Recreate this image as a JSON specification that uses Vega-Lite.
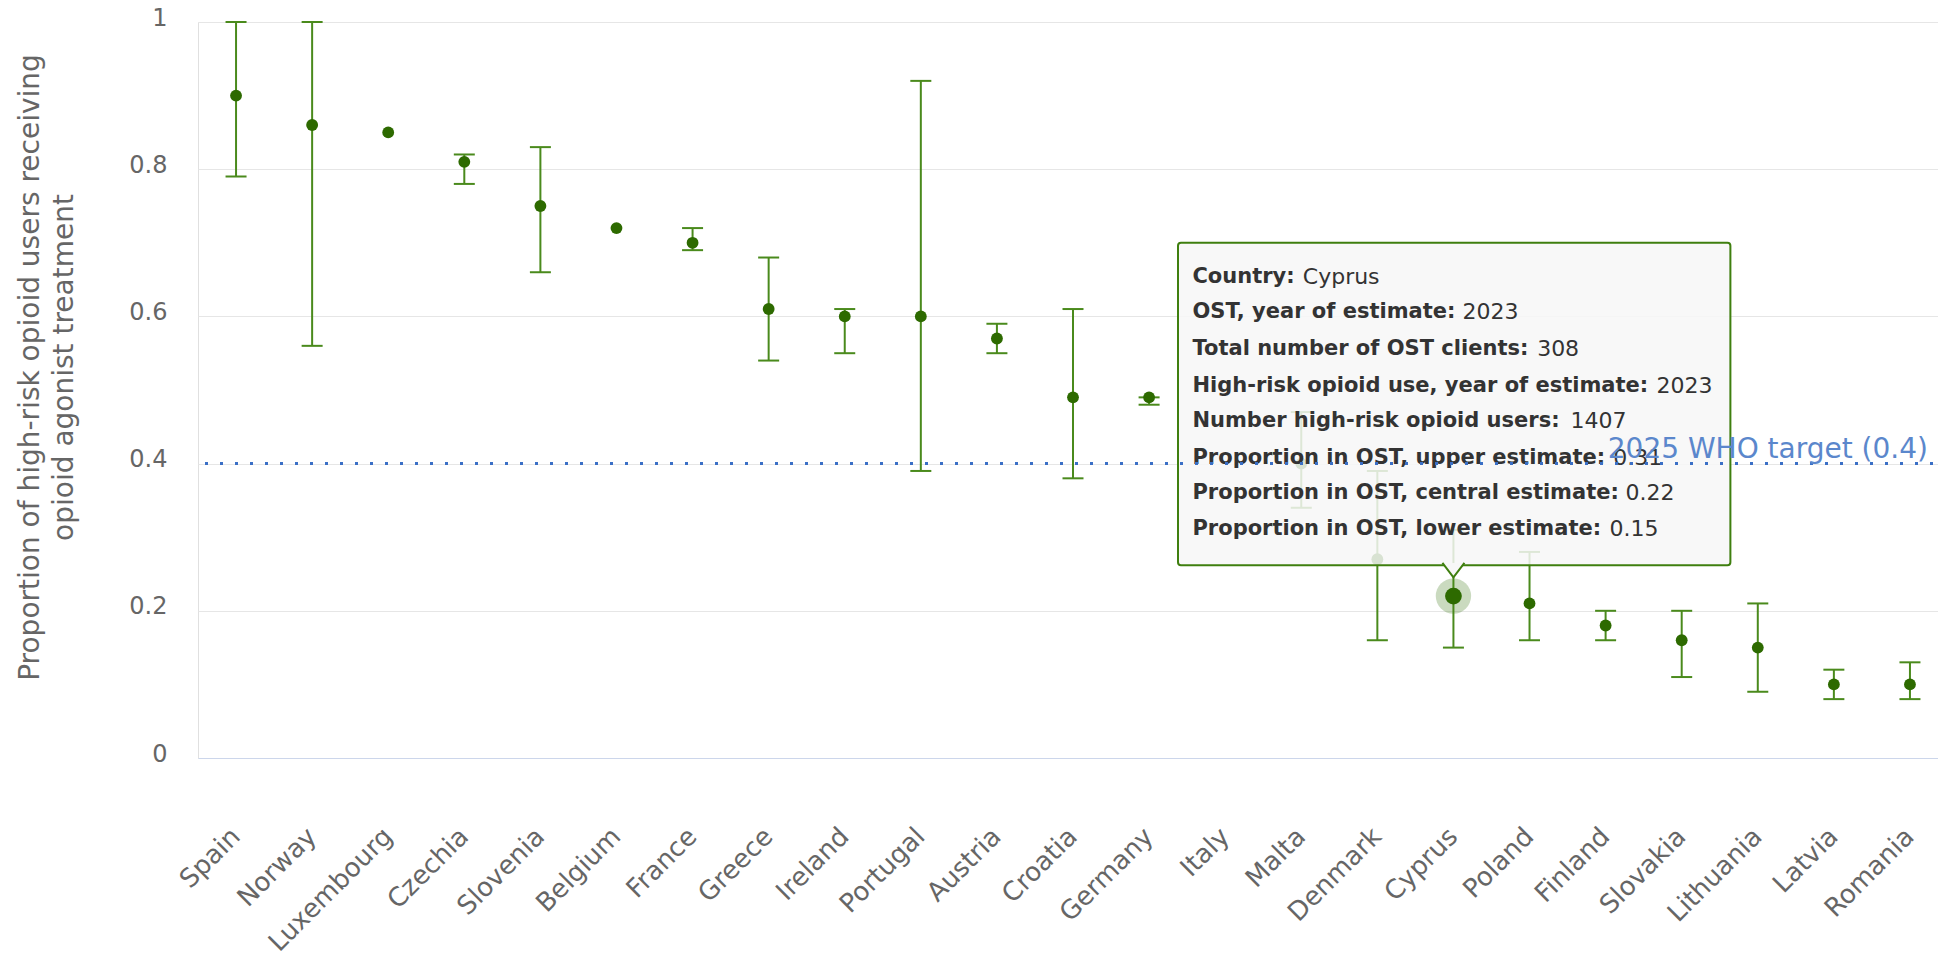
{
  "$schema": "https://vega.github.io/schema/vega-lite/v6.json",
  "width": 1750,
  "height": 736,
  "autosize": {"type": "none"},
  "padding": {"left": 198, "top": 22, "right": 0, "bottom": 206},
  "background": "white",
  "config": {"font": "DejaVu Sans", "view": {"stroke": "#e0e0e0"}},
  "datasets": {
    "ost": [
      {"country": "Spain", "central": 0.90, "lower": 0.79, "upper": 1.00},
      {"country": "Norway", "central": 0.86, "lower": 0.56, "upper": 1.00},
      {"country": "Luxembourg", "central": 0.85, "lower": null, "upper": null},
      {"country": "Czechia", "central": 0.81, "lower": 0.78, "upper": 0.82},
      {"country": "Slovenia", "central": 0.75, "lower": 0.66, "upper": 0.83},
      {"country": "Belgium", "central": 0.72, "lower": null, "upper": null},
      {"country": "France", "central": 0.70, "lower": 0.69, "upper": 0.72},
      {"country": "Greece", "central": 0.61, "lower": 0.54, "upper": 0.68},
      {"country": "Ireland", "central": 0.60, "lower": 0.55, "upper": 0.61},
      {"country": "Portugal", "central": 0.60, "lower": 0.39, "upper": 0.92},
      {"country": "Austria", "central": 0.57, "lower": 0.55, "upper": 0.59},
      {"country": "Croatia", "central": 0.49, "lower": 0.38, "upper": 0.61},
      {"country": "Germany", "central": 0.49, "lower": 0.48, "upper": 0.49},
      {"country": "Italy", "central": null, "lower": null, "upper": null},
      {"country": "Malta", "central": 0.40, "lower": 0.34, "upper": 0.47},
      {"country": "Denmark", "central": 0.27, "lower": 0.16, "upper": 0.39},
      {"country": "Cyprus", "central": 0.22, "lower": 0.15, "upper": 0.31},
      {"country": "Poland", "central": 0.21, "lower": 0.16, "upper": 0.28},
      {"country": "Finland", "central": 0.18, "lower": 0.16, "upper": 0.20},
      {"country": "Slovakia", "central": 0.16, "lower": 0.11, "upper": 0.20},
      {"country": "Lithuania", "central": 0.15, "lower": 0.09, "upper": 0.21},
      {"country": "Latvia", "central": 0.10, "lower": 0.08, "upper": 0.12},
      {"country": "Romania", "central": 0.10, "lower": 0.08, "upper": 0.13}
    ],
    "tip": [
      {"label": "Country:", "value": "Cyprus", "lx": 13.07, "vx": 14.52, "ly": 0.654},
      {"label": "OST, year of estimate:", "value": "2023", "lx": 13.07, "vx": 16.62, "ly": 0.606},
      {"label": "Total number of OST clients:", "value": "308", "lx": 13.07, "vx": 17.6, "ly": 0.556},
      {"label": "High-risk opioid use, year of estimate:", "value": "2023", "lx": 13.07, "vx": 19.17, "ly": 0.506},
      {"label": "Number high-risk opioid users:", "value": "1407", "lx": 13.07, "vx": 18.04, "ly": 0.458},
      {"label": "Proportion in OST, upper estimate:", "value": "0.31", "lx": 13.07, "vx": 18.6, "ly": 0.408},
      {"label": "Proportion in OST, central estimate:", "value": "0.22", "lx": 13.07, "vx": 18.76, "ly": 0.360},
      {"label": "Proportion in OST, lower estimate:", "value": "0.15", "lx": 13.07, "vx": 18.55, "ly": 0.311}
    ],
    "box": [{"x1": 12.88, "x2": 20.14, "y1": 0.700, "y2": 0.262}]
  },
  "layer": [
    {
      "data": {"name": "ost"},
      "encoding": {
        "x": {
          "field": "country", "type": "nominal", "sort": null,
          "scale": {
            "domain": ["Spain", "Norway", "Luxembourg", "Czechia", "Slovenia", "Belgium", "France", "Greece", "Ireland", "Portugal", "Austria", "Croatia", "Germany", "Italy", "Malta", "Denmark", "Cyprus", "Poland", "Finland", "Slovakia", "Lithuania", "Latvia", "Romania"],
            "paddingInner": 0, "paddingOuter": 0
          },
          "axis": {
            "title": null, "ticks": false, "grid": false,
            "domainColor": "#ccd6eb", "domainWidth": 1,
            "labelAngle": -45, "labelAlign": "right", "labelBaseline": "middle",
            "labelPadding": 74, "labelFontSize": 26, "labelColor": "#666666",
            "labelOverlap": false, "labelBound": false, "labelFlush": false
          }
        }
      },
      "layer": [
        {
          "transform": [{"filter": "datum.country === 'Cyprus'"}],
          "mark": {"type": "point", "filled": true, "size": 1250, "color": "#2d6a00", "opacity": 0.25},
          "encoding": {
            "y": {
              "field": "central", "type": "quantitative",
              "scale": {"domain": [0, 1], "nice": false, "zero": true},
              "axis": {
                "values": [0, 0.2, 0.4, 0.6, 0.8, 1], "format": "~g",
                "title": ["Proportion of high-risk opioid users receiving", "opioid agonist treatment"],
                "titleFontSize": 28, "titleFontWeight": "normal", "titleColor": "#666666",
                "titleAngle": -90, "titleAlign": "center", "titleBaseline": "middle",
                "titleX": -168, "titleY": 345, "titleLineHeight": 34,
                "domain": false, "ticks": false,
                "labelPadding": 31, "labelFontSize": 24, "labelColor": "#666666", "labelOffset": -4,
                "gridColor": "#e6e6e6", "gridWidth": 1
              }
            }
          }
        },
        {
          "mark": {"type": "rule", "color": "#4a8a1c", "strokeWidth": 2},
          "encoding": {
            "y": {"field": "lower", "type": "quantitative"},
            "y2": {"field": "upper"}
          }
        },
        {
          "mark": {"type": "tick", "color": "#4a8a1c", "size": 21, "thickness": 2, "opacity": 1},
          "encoding": {"y": {"field": "upper", "type": "quantitative"}}
        },
        {
          "mark": {"type": "tick", "color": "#4a8a1c", "size": 21, "thickness": 2, "opacity": 1},
          "encoding": {"y": {"field": "lower", "type": "quantitative"}}
        },
        {
          "mark": {"type": "point", "filled": true, "size": 140, "color": "#2d6a00", "opacity": 1},
          "encoding": {"y": {"field": "central", "type": "quantitative"}}
        },
        {
          "transform": [{"filter": "datum.country === 'Cyprus'"}],
          "mark": {"type": "point", "filled": true, "size": 280, "color": "#2d6a00", "opacity": 1},
          "encoding": {"y": {"field": "central", "type": "quantitative"}}
        }
      ]
    },
    {
      "layer": [
        {
          "data": {"name": "box"},
          "mark": {"type": "rect", "fill": "#f7f7f7", "fillOpacity": 0.85, "stroke": "#3f7f0f", "strokeWidth": 2, "cornerRadius": 3},
          "encoding": {
            "x": {"field": "x1", "type": "quantitative", "scale": {"domain": [0, 23], "nice": false, "zero": true}, "axis": null},
            "x2": {"field": "x2"},
            "y": {"field": "y1", "type": "quantitative"},
            "y2": {"field": "y2"}
          }
        },
        {
          "data": {"values": [{}]},
          "mark": {"type": "point", "shape": "M-1,-0.2L0,1.1L1,-0.2", "filled": false, "fill": "#f7f7f7", "fillOpacity": 1, "stroke": "#3f7f0f", "strokeWidth": 2, "size": 484, "opacity": 1},
          "encoding": {
            "x": {"datum": 16.5, "type": "quantitative"},
            "y": {"datum": 0.262, "type": "quantitative"}
          }
        },
        {
          "data": {"name": "tip"},
          "mark": {"type": "text", "align": "left", "baseline": "middle", "fontSize": 21, "fontWeight": "bold", "color": "#333333"},
          "encoding": {
            "x": {"field": "lx", "type": "quantitative"},
            "y": {"field": "ly", "type": "quantitative"},
            "text": {"field": "label"}
          }
        },
        {
          "data": {"name": "tip"},
          "mark": {"type": "text", "align": "left", "baseline": "middle", "fontSize": 22, "color": "#333333"},
          "encoding": {
            "x": {"field": "vx", "type": "quantitative"},
            "y": {"field": "ly", "type": "quantitative"},
            "text": {"field": "value"}
          }
        },
        {
          "data": {"values": [{}]},
          "mark": {"type": "rule", "color": "#3a6fc6", "strokeWidth": 3, "strokeDash": [3, 12]},
          "encoding": {"y": {"datum": 0.4, "type": "quantitative"}}
        },
        {
          "data": {"values": [{}]},
          "mark": {"type": "text", "align": "right", "baseline": "bottom", "dx": -20, "dy": 0, "fontSize": 28, "color": "#5b87cc", "text": "2025 WHO target (0.4)"},
          "encoding": {
            "x": {"datum": 23, "type": "quantitative"},
            "y": {"datum": 0.4, "type": "quantitative"}
          }
        }
      ]
    }
  ],
  "resolve": {"scale": {"x": "independent"}, "axis": {"x": "independent"}}
}
